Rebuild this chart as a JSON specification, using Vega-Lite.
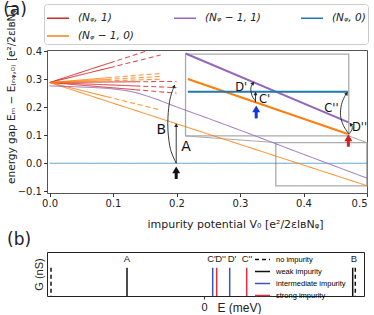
{
  "$schema": "https://vega.github.io/schema/vega-lite/v6.json",
  "padding": {"left": 2, "top": 0, "right": 0, "bottom": 0},
  "background": "white",
  "spacing": 0,
  "align": "none",
  "resolve": {"scale": {"color": "independent", "strokeDash": "independent", "opacity": "independent", "size": "independent", "fill": "independent", "stroke": "independent", "x": "independent", "y": "independent"}, "legend": {"color": "independent", "strokeDash": "independent"}},
  "config": {
    "font": "DejaVu Sans",
    "axis": {"grid": false, "domain": false, "labelFontSize": 10, "titleFontSize": 11, "titleFontWeight": "normal", "labelColor": "#222", "titleColor": "#222", "tickColor": "#333"},
    "title": {"fontWeight": "normal", "color": "#222"}
  },
  "vconcat": [
    {
      "width": 320,
      "height": 143,
      "view": {"stroke": "#555"},
      "title": {"text": "(a)", "anchor": "start", "frame": "bounds", "fontSize": 17, "offset": -16, "dx": -3},
      "encoding": {
        "x": {"field": "x", "type": "quantitative", "scale": {"domain": [-0.004, 0.5], "nice": false, "zero": false},
          "axis": {"values": [0, 0.1, 0.2, 0.3, 0.4, 0.5], "format": ".1f", "tickSize": 3.5, "labelPadding": 2, "titlePadding": 10, "title": "impurity potential V₀   [e²/2εlʙNᵩ]", "titleX": 188}},
        "y": {"field": "y", "type": "quantitative", "scale": {"domain": [-0.106, 0.404], "nice": false, "zero": false},
          "axis": {"values": [-0.1, 0, 0.1, 0.2, 0.3, 0.4], "format": ".1f", "tickSize": 3.5, "labelPadding": 2, "titlePadding": 1, "title": "energy gap Eₘ − E₍ₙᵩ,₀₎  [e²/2εlʙNᵩ]", "titleFontSize": 10.5, "titleY": 44}}
      },
      "layer": [
        {
          "data": {"values": [
            {"x": 0.2142, "x2": 0.4713, "y": 0.0975, "y2": 0.389},
            {"x": 0.3564, "x2": 0.4997, "y": -0.0804, "y2": 0.0737}
          ]},
          "mark": {"type": "rect", "fillOpacity": 0, "stroke": "#aaa", "strokeWidth": 1.3},
          "encoding": {"x2": {"field": "x2"}, "y2": {"field": "y2"}}
        },
        {
          "data": {"values": [
            {"x": 0.2142, "y": 0.0975, "x2": 0.3564, "y2": 0.0737},
            {"x": 0.4713, "y": 0.0975, "x2": 0.4997, "y2": 0.0737}
          ]},
          "mark": {"type": "rule", "color": "#aaa", "strokeWidth": 1},
          "encoding": {"x2": {"field": "x2"}, "y2": {"field": "y2"}}
        },
        {
          "data": {"values": [
            {"id": "Bl", "state": "(Nᵩ, 0)", "seg": "faint", "i": 0, "x": 0, "y": 0},
            {"id": "Bl", "state": "(Nᵩ, 0)", "seg": "faint", "i": 1, "x": 0.5, "y": 0},
            {"id": "R1s", "state": "(Nᵩ, 1)", "seg": "solid", "i": 0, "x": 0, "y": 0.288},
            {"id": "R1s", "state": "(Nᵩ, 1)", "seg": "solid", "i": 1, "x": 0.095, "y": 0.358},
            {"id": "R1d", "state": "(Nᵩ, 1)", "seg": "dashed", "i": 0, "x": 0.095, "y": 0.358},
            {"id": "R1d", "state": "(Nᵩ, 1)", "seg": "dashed", "i": 1, "x": 0.152, "y": 0.4},
            {"id": "R2s", "state": "(Nᵩ, 1)", "seg": "solid", "i": 0, "x": 0, "y": 0.288},
            {"id": "R2s", "state": "(Nᵩ, 1)", "seg": "solid", "i": 1, "x": 0.095, "y": 0.341},
            {"id": "R2d", "state": "(Nᵩ, 1)", "seg": "dashed", "i": 0, "x": 0.095, "y": 0.341},
            {"id": "R2d", "state": "(Nᵩ, 1)", "seg": "dashed", "i": 1, "x": 0.175, "y": 0.386},
            {"id": "R3s", "state": "(Nᵩ, 1)", "seg": "solid", "i": 0, "x": 0, "y": 0.288},
            {"id": "R3s", "state": "(Nᵩ, 1)", "seg": "solid", "i": 1, "x": 0.135, "y": 0.2907},
            {"id": "R3d", "state": "(Nᵩ, 1)", "seg": "dashed", "i": 0, "x": 0.135, "y": 0.2907},
            {"id": "R3d", "state": "(Nᵩ, 1)", "seg": "dashed", "i": 1, "x": 0.2, "y": 0.292},
            {"id": "R4s", "state": "(Nᵩ, 1)", "seg": "solid", "i": 0, "x": 0, "y": 0.288},
            {"id": "R4s", "state": "(Nᵩ, 1)", "seg": "solid", "i": 1, "x": 0.135, "y": 0.2759},
            {"id": "R4d", "state": "(Nᵩ, 1)", "seg": "dashed", "i": 0, "x": 0.135, "y": 0.2759},
            {"id": "R4d", "state": "(Nᵩ, 1)", "seg": "dashed", "i": 1, "x": 0.2, "y": 0.27},
            {"id": "R5s", "state": "(Nᵩ, 1)", "seg": "solid", "i": 0, "x": 0, "y": 0.288},
            {"id": "R5s", "state": "(Nᵩ, 1)", "seg": "solid", "i": 1, "x": 0.135, "y": 0.2624},
            {"id": "R5d", "state": "(Nᵩ, 1)", "seg": "dashed", "i": 0, "x": 0.135, "y": 0.2624},
            {"id": "R5d", "state": "(Nᵩ, 1)", "seg": "dashed", "i": 1, "x": 0.2, "y": 0.25},
            {"id": "O1s", "state": "(Nᵩ − 1, 0)", "seg": "solid", "i": 0, "x": 0, "y": 0.288},
            {"id": "O1s", "state": "(Nᵩ − 1, 0)", "seg": "solid", "i": 1, "x": 0.09, "y": 0.3047},
            {"id": "O1d", "state": "(Nᵩ − 1, 0)", "seg": "dashed", "i": 0, "x": 0.09, "y": 0.3047},
            {"id": "O1d", "state": "(Nᵩ − 1, 0)", "seg": "dashed", "i": 1, "x": 0.178, "y": 0.321},
            {"id": "O2s", "state": "(Nᵩ − 1, 0)", "seg": "solid", "i": 0, "x": 0, "y": 0.288},
            {"id": "O2s", "state": "(Nᵩ − 1, 0)", "seg": "solid", "i": 1, "x": 0.09, "y": 0.2991},
            {"id": "O2d", "state": "(Nᵩ − 1, 0)", "seg": "dashed", "i": 0, "x": 0.09, "y": 0.2991},
            {"id": "O2d", "state": "(Nᵩ − 1, 0)", "seg": "dashed", "i": 1, "x": 0.178, "y": 0.31},
            {"id": "O3s", "state": "(Nᵩ − 1, 0)", "seg": "solid", "i": 0, "x": 0, "y": 0.288},
            {"id": "O3s", "state": "(Nᵩ − 1, 0)", "seg": "solid", "i": 1, "x": 0.09, "y": 0.294},
            {"id": "O3d", "state": "(Nᵩ − 1, 0)", "seg": "dashed", "i": 0, "x": 0.09, "y": 0.294},
            {"id": "O3d", "state": "(Nᵩ − 1, 0)", "seg": "dashed", "i": 1, "x": 0.178, "y": 0.3},
            {"id": "O4s", "state": "(Nᵩ − 1, 0)", "seg": "solid", "i": 0, "x": 0, "y": 0.288},
            {"id": "O4s", "state": "(Nᵩ − 1, 0)", "seg": "solid", "i": 1, "x": 0.09, "y": 0.2376},
            {"id": "O4d", "state": "(Nᵩ − 1, 0)", "seg": "dashed", "i": 0, "x": 0.09, "y": 0.2376},
            {"id": "O4d", "state": "(Nᵩ − 1, 0)", "seg": "dashed", "i": 1, "x": 0.175, "y": 0.19},
            {"id": "O5", "state": "(Nᵩ − 1, 0)", "seg": "solid", "i": 0, "x": 0, "y": 0.288},
            {"id": "O5", "state": "(Nᵩ − 1, 0)", "seg": "solid", "i": 1, "x": 0.5, "y": -0.08},
            {"id": "P", "state": "(Nᵩ − 1, 1)", "seg": "solid", "i": 0, "x": 0, "y": 0.276},
            {"id": "P", "state": "(Nᵩ − 1, 1)", "seg": "solid", "i": 1, "x": 0.05, "y": 0.272},
            {"id": "P", "state": "(Nᵩ − 1, 1)", "seg": "solid", "i": 2, "x": 0.1, "y": 0.265},
            {"id": "P", "state": "(Nᵩ − 1, 1)", "seg": "solid", "i": 3, "x": 0.13, "y": 0.255},
            {"id": "P", "state": "(Nᵩ − 1, 1)", "seg": "solid", "i": 4, "x": 0.16, "y": 0.235},
            {"id": "P", "state": "(Nᵩ − 1, 1)", "seg": "solid", "i": 5, "x": 0.2, "y": 0.201},
            {"id": "P", "state": "(Nᵩ − 1, 1)", "seg": "solid", "i": 6, "x": 0.25, "y": 0.16},
            {"id": "P", "state": "(Nᵩ − 1, 1)", "seg": "solid", "i": 7, "x": 0.3, "y": 0.118},
            {"id": "P", "state": "(Nᵩ − 1, 1)", "seg": "solid", "i": 8, "x": 0.4, "y": 0.032},
            {"id": "P", "state": "(Nᵩ − 1, 1)", "seg": "solid", "i": 9, "x": 0.5, "y": -0.053}
          ]},
          "mark": {"type": "line", "interpolate": "monotone"},
          "encoding": {
            "detail": {"field": "id"},
            "order": {"field": "i", "type": "quantitative"},
            "color": {"field": "state", "type": "nominal",
              "scale": {"domain": ["(Nᵩ, 1)", "(Nᵩ − 1, 1)", "(Nᵩ, 0)", "(Nᵩ − 1, 0)"], "range": ["#d62728", "#9467bd", "#1f77b4", "#ff7f0e"]},
              "legend": {"orient": "none", "legendX": -3, "legendY": -46, "direction": "horizontal", "columns": 3, "title": null, "symbolType": "stroke", "symbolSize": 484, "symbolStrokeWidth": 1.5, "labelFontSize": 10.5, "labelFontStyle": "italic", "labelColor": "#222", "labelOffset": 8, "columnPadding": 37, "rowPadding": -7, "padding": 2, "strokeColor": "#ccc", "cornerRadius": 3, "fillColor": "white"}},
            "strokeDash": {"field": "seg", "type": "nominal", "scale": {"domain": ["solid", "dashed", "faint"], "range": [[1, 0], [5, 3], [1, 0]]}, "legend": null},
            "opacity": {"field": "seg", "type": "nominal", "scale": {"domain": ["solid", "dashed", "faint"], "range": [1, 0.65, 0.45]}, "legend": null},
            "size": {"field": "seg", "type": "nominal", "scale": {"domain": ["solid", "dashed", "faint"], "range": [1, 1.1, 2]}, "legend": null}
          }
        },
        {
          "data": {"values": [
            {"state": "(Nᵩ − 1, 1)", "x": 0.2142, "y": 0.3915},
            {"state": "(Nᵩ − 1, 1)", "x": 0.4709, "y": 0.146},
            {"state": "(Nᵩ − 1, 0)", "x": 0.2178, "y": 0.3004},
            {"state": "(Nᵩ − 1, 0)", "x": 0.4698, "y": 0.1046},
            {"state": "(Nᵩ, 0)", "x": 0.2178, "y": 0.255},
            {"state": "(Nᵩ, 0)", "x": 0.4698, "y": 0.255}
          ]},
          "mark": {"type": "line", "strokeWidth": 2},
          "encoding": {"color": {"field": "state", "type": "nominal"}, "detail": {"field": "state"}}
        },
        {
          "data": {"values": [
            {"id": "A", "i": 0, "x": 0.1995, "y": 0},
            {"id": "A", "i": 1, "x": 0.1995, "y": 0.14},
            {"id": "B", "i": 0, "x": 0.1995, "y": 0},
            {"id": "B", "i": 1, "x": 0.1906, "y": 0.049},
            {"id": "B", "i": 2, "x": 0.1866, "y": 0.113},
            {"id": "B", "i": 3, "x": 0.1866, "y": 0.167},
            {"id": "B", "i": 4, "x": 0.189, "y": 0.22},
            {"id": "B", "i": 5, "x": 0.193, "y": 0.255},
            {"id": "B", "i": 6, "x": 0.197, "y": 0.278},
            {"id": "C1", "i": 0, "x": 0.3244, "y": 0.2176},
            {"id": "C1", "i": 1, "x": 0.3244, "y": 0.253},
            {"id": "D1", "i": 0, "x": 0.3244, "y": 0.2214},
            {"id": "D1", "i": 1, "x": 0.3189, "y": 0.241},
            {"id": "D1", "i": 2, "x": 0.317, "y": 0.2623},
            {"id": "D1", "i": 3, "x": 0.3181, "y": 0.2765},
            {"id": "D1", "i": 4, "x": 0.3215, "y": 0.2875},
            {"id": "C2", "i": 0, "x": 0.4713, "y": 0.1046},
            {"id": "C2", "i": 1, "x": 0.463, "y": 0.134},
            {"id": "C2", "i": 2, "x": 0.4583, "y": 0.1698},
            {"id": "C2", "i": 3, "x": 0.4598, "y": 0.2089},
            {"id": "C2", "i": 4, "x": 0.4646, "y": 0.2374},
            {"id": "C2", "i": 5, "x": 0.4692, "y": 0.252},
            {"id": "D2", "i": 0, "x": 0.4717, "y": 0.1046},
            {"id": "D2", "i": 1, "x": 0.4764, "y": 0.12},
            {"id": "D2", "i": 2, "x": 0.4764, "y": 0.1324},
            {"id": "D2", "i": 3, "x": 0.4735, "y": 0.142}
          ]},
          "mark": {"type": "line", "interpolate": "cardinal", "color": "#222", "strokeWidth": 0.9},
          "encoding": {"detail": {"field": "id"}, "order": {"field": "i", "type": "quantitative"}}
        },
        {
          "data": {"values": [{"x": 0.1995, "y": 0.136}, {"x": 0.3244, "y": 0.249}]},
          "mark": {"type": "point", "shape": "triangle-up", "filled": true, "color": "#222", "size": 16, "opacity": 1}
        },
        {
          "data": {"values": [{"x": 0.1963, "y": 0.2745}]},
          "mark": {"type": "point", "shape": "triangle-up", "filled": true, "color": "#222", "size": 16, "opacity": 1, "angle": 20}
        },
        {
          "data": {"values": [{"x": 0.3205, "y": 0.2855}, {"x": 0.4681, "y": 0.2493}]},
          "mark": {"type": "point", "shape": "triangle-up", "filled": true, "color": "#222", "size": 16, "opacity": 1, "angle": 35}
        },
        {
          "data": {"values": [{"x": 0.4744, "y": 0.1397}]},
          "mark": {"type": "point", "shape": "triangle-up", "filled": true, "color": "#222", "size": 16, "opacity": 1, "angle": -34}
        },
        {
          "data": {"values": [
            {"imp": "weak", "x": 0.1995, "y": -0.0235},
            {"imp": "intermediate", "x": 0.3255, "y": 0.194},
            {"imp": "strong", "x": 0.4706, "y": 0.0908}
          ]},
          "mark": {"type": "point", "shape": "triangle-up", "filled": true, "size": 64, "opacity": 1},
          "encoding": {"fill": {"field": "imp", "type": "nominal", "scale": {"domain": ["weak", "intermediate", "strong"], "range": ["#111", "#1438e0", "#d81f1f"]}, "legend": null}}
        },
        {
          "data": {"values": [
            {"imp": "weak", "x": 0.1995, "y": -0.032, "y2": -0.056},
            {"imp": "intermediate", "x": 0.3255, "y": 0.186, "y2": 0.16},
            {"imp": "strong", "x": 0.4706, "y": 0.083, "y2": 0.059}
          ]},
          "mark": {"type": "rule", "strokeWidth": 3},
          "encoding": {"y2": {"field": "y2"}, "stroke": {"field": "imp", "type": "nominal", "scale": {"domain": ["weak", "intermediate", "strong"], "range": ["#111", "#1438e0", "#d81f1f"]}, "legend": null}}
        },
        {
          "data": {"values": [{"lab": "A", "x": 0.215, "y": 0.059}, {"lab": "B", "x": 0.176, "y": 0.119}]},
          "mark": {"type": "text", "fontSize": 14, "color": "#111", "baseline": "middle", "align": "center"},
          "encoding": {"text": {"field": "lab"}}
        },
        {
          "data": {"values": [
            {"lab": "D'", "x": 0.3019, "y": 0.267},
            {"lab": "C'", "x": 0.3386, "y": 0.2256},
            {"lab": "C''", "x": 0.4441, "y": 0.1929},
            {"lab": "D''", "x": 0.4882, "y": 0.127}
          ]},
          "mark": {"type": "text", "fontSize": 11.5, "color": "#111", "baseline": "middle", "align": "center"},
          "encoding": {"text": {"field": "lab"}}
        }
      ]
    },
    {
      "width": 317,
      "height": 44,
      "view": {"stroke": "#222"},
      "title": {"text": "(b)", "anchor": "start", "frame": "bounds", "fontSize": 17, "offset": 2, "dx": -26},
      "layer": [
        {
          "data": {"values": [
            {"E": -153, "kind": "no impurity", "G": 0.64},
            {"E": -77, "kind": "weak impurity", "G": 0.64},
            {"E": 8.7, "kind": "intermediate impurity", "G": 0.64},
            {"E": 12.7, "kind": "strong impurity", "G": 0.64},
            {"E": 25.7, "kind": "intermediate impurity", "G": 0.64},
            {"E": 42.7, "kind": "strong impurity", "G": 0.64},
            {"E": 148.7, "kind": "weak impurity", "G": 0.64},
            {"E": 151.3, "kind": "no impurity", "G": 0.64}
          ]},
          "mark": {"type": "rule", "strokeWidth": 1.5},
          "encoding": {
            "x": {"field": "E", "type": "quantitative", "scale": {"domain": [-157, 160], "nice": false, "zero": false},
              "axis": {"values": [0], "format": "d", "tickSize": 3, "labelFontSize": 11, "labelFont": "Liberation Sans", "labelPadding": 2, "title": "E  (meV)", "titleFont": "Liberation Sans", "titleFontSize": 12, "titleX": 192, "titleY": 6, "titleBaseline": "top"}},
            "y": {"field": "G", "type": "quantitative", "scale": {"domain": [0, 1], "nice": false},
              "axis": {"labels": false, "ticks": false, "title": "G (nS)", "titleFont": "Liberation Sans", "titleFontSize": 11, "titlePadding": 3}},
            "y2": {"datum": 0},
            "color": {"field": "kind", "type": "nominal",
              "scale": {"domain": ["no impurity", "weak impurity", "intermediate impurity", "strong impurity"], "range": ["#111", "#111", "#3c50c8", "#e3303a"]},
              "legend": {"orient": "none", "legendX": 207, "legendY": -1, "title": null, "symbolType": "stroke", "symbolSize": 225, "symbolStrokeWidth": 1.5, "labelFont": "Liberation Sans", "labelFontSize": 7.5, "labelOffset": 5, "rowPadding": -6, "padding": 0}},
            "strokeDash": {"field": "kind", "type": "nominal",
              "scale": {"domain": ["no impurity", "weak impurity", "intermediate impurity", "strong impurity"], "range": [[4, 3], [1, 0], [1, 0], [1, 0]]},
              "legend": {"orient": "none", "legendX": 207, "legendY": -1, "title": null, "symbolType": "stroke", "symbolSize": 225, "symbolStrokeWidth": 1.5, "labelFont": "Liberation Sans", "labelFontSize": 7.5, "labelOffset": 5, "rowPadding": -6, "padding": 0}}
          }
        },
        {
          "data": {"values": [
            {"E": -77, "lab": "A"},
            {"E": 7.5, "lab": "C'"},
            {"E": 16.5, "lab": "D''"},
            {"E": 28, "lab": "D'"},
            {"E": 43, "lab": "C''"},
            {"E": 150, "lab": "B"}
          ]},
          "mark": {"type": "text", "font": "Liberation Sans", "fontSize": 9.5, "baseline": "middle", "color": "#222"},
          "encoding": {"x": {"field": "E", "type": "quantitative"}, "y": {"datum": 0.85}, "text": {"field": "lab"}}
        }
      ]
    }
  ]
}
